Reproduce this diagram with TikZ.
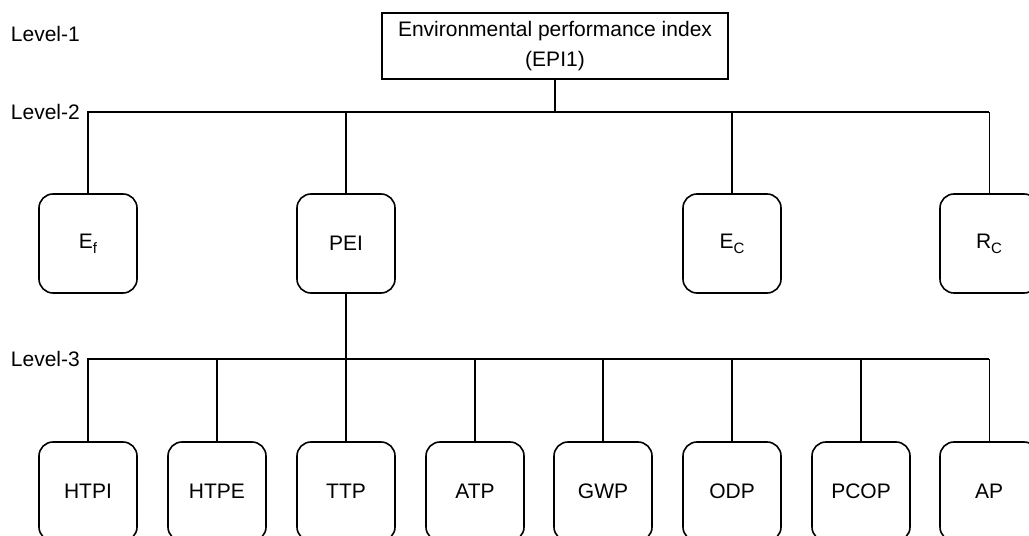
\documentclass[tikz,border=0pt]{standalone}
\usepackage{fontspec}
\setmainfont{Liberation Sans}
\newcommand{\lowsub}[1]{\raisebox{-5bp}{\fontsize{15bp}{15bp}\selectfont #1}}

\begin{document}
\begin{tikzpicture}[x=1bp,y=-1bp,font=\fontsize{21bp}{25bp}\selectfont,
  lw/.style={line width=1.6bp},
  thin/.style={line width=0.9bp},
  topbox/.style={draw,lw,minimum width=346bp,minimum height=66bp,align=center,inner sep=0pt,
    font=\fontsize{21bp}{30bp}\selectfont},
  ind/.style={draw,lw,rounded corners=14bp,minimum width=98bp,minimum height=99bp,inner sep=0pt},
  lvl/.style={anchor=east,inner sep=0pt}]
  \clip (0,0) rectangle (1029,536);
  % level labels
  \node[lvl] (lv1) at (80,34) {Level-1};
  \node[lvl] (lv2) at (80,112) {Level-2};
  \node[lvl] (lv3) at (80,359) {Level-3};
  % level 1
  \node[topbox] (epi) at (555,46) {Environmental performance index\\(EPI1)};
  % level 2
  \node[ind] (ef) at (88,243.5) {E\lowsub{f}};
  \node[ind] (pei) at (346,243.5) {PEI};
  \node[ind] (ec) at (732,243.5) {E\lowsub{C}};
  \node[ind] (rc) at (989,243.5) {R\lowsub{C}};
  % level 3
  \node[ind] (htpi) at (88,491.5) {HTPI};
  \node[ind] (htpe) at (217,491.5) {HTPE};
  \node[ind] (ttp) at (346,491.5) {TTP};
  \node[ind] (atp) at (475,491.5) {ATP};
  \node[ind] (gwp) at (603,491.5) {GWP};
  \node[ind] (odp) at (732,491.5) {ODP};
  \node[ind] (pcop) at (861,491.5) {PCOP};
  \node[ind] (ap) at (989,491.5) {AP};
  % buses
  \coordinate (bus2) at (555,112);
  \coordinate (bus3) at (346,359);
  \draw[lw] (epi) -- (bus2);
  \draw[lw] (ef.north) |- (rc.north |- bus2);
  \draw[lw] (pei.north) -- (pei.north |- bus2);
  \draw[lw] (ec.north) -- (ec.north |- bus2);
  \draw[thin] (rc.north) -- (rc.north |- bus2);
  \draw[lw] (pei) -- (ttp);
  \draw[lw] (htpi.north) |- (ap.north |- bus3);
  \draw[lw] (htpe.north) -- (htpe.north |- bus3);
  \draw[lw] (atp.north) -- (atp.north |- bus3);
  \draw[lw] (gwp.north) -- (gwp.north |- bus3);
  \draw[lw] (odp.north) -- (odp.north |- bus3);
  \draw[lw] (pcop.north) -- (pcop.north |- bus3);
  \draw[thin] (ap.north) -- (ap.north |- bus3);
\end{tikzpicture}
\end{document}
